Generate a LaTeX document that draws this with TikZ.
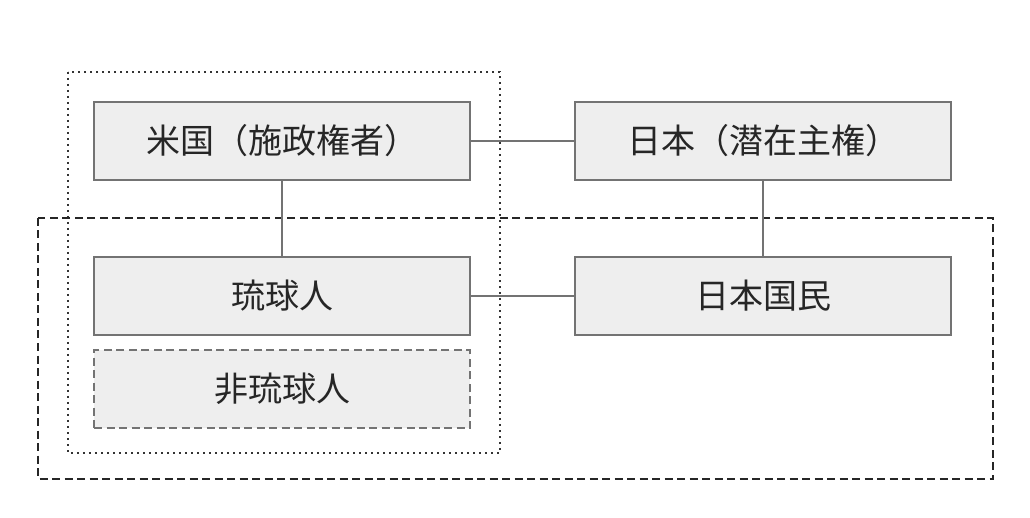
\documentclass[tikz,border=0pt]{standalone}
\usepackage{fontspec}
\newfontfamily\jpfont{Noto Sans CJK JP}
\definecolor{boxfill}{HTML}{EEEEEE}
\definecolor{boxline}{HTML}{737373}
\begin{document}
\begin{tikzpicture}[x=1pt,y=-1pt,
    box/.style={draw=boxline,fill=boxfill,line width=1.8pt,minimum width=376pt,
      minimum height=78pt,inner sep=0pt,text=black!85,
      font=\jpfont\fontsize{34}{34}\selectfont},
    link/.style={draw=boxline,line width=1.5pt}]
  \useasboundingbox (0,0) rectangle (1030,518);
  % groups
  \draw[black!80,line width=1.6pt,dash pattern=on 1.6pt off 4.4pt] (68,72) rectangle (500,453);
  \draw[black!85,line width=1.6pt,dash pattern=on 8pt off 4.5pt] (38,218) rectangle (993,479);
  % boxes
  \node[box] (usa) at (282,141) {米国（施政権者）};
  \node[box] (japan) at (763,141) {日本（潜在主権）};
  \node[box] (ryukyu) at (282,296) {琉球人};
  \node[box] (nation) at (763,296) {日本国民};
  \node[box,dash pattern=on 8pt off 4.5pt] (nonryu) at (282,389) {非琉球人};
  % links
  \draw[link] (usa) -- (japan);
  \draw[link] (usa) -- (ryukyu);
  \draw[link] (japan) -- (nation);
  \draw[link] (ryukyu) -- (nation);
\end{tikzpicture}
\end{document}
